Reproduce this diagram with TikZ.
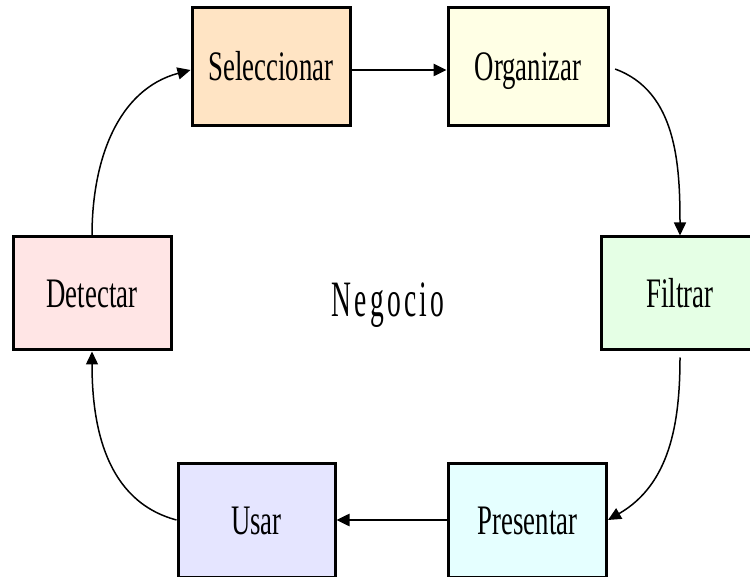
\documentclass[tikz,border=0pt]{standalone}
\usepackage{graphicx}
\usepackage{fontspec}
\setmainfont{Liberation Serif}
\usetikzlibrary{arrows.meta}
\definecolor{cSel}{HTML}{FFE4C4}
\definecolor{cOrg}{HTML}{FFFFE5}
\definecolor{cFil}{HTML}{E5FFE5}
\definecolor{cDet}{HTML}{FFE5E5}
\definecolor{cUsa}{HTML}{E5E5FF}
\definecolor{cPre}{HTML}{E5FFFF}
\newcommand\boxlabel[1]{\scalebox{0.67}[1.05]{#1}}
\begin{document}
\begin{tikzpicture}[x=1pt,y=1pt,
  box/.style={draw=black,line width=3pt,minimum width=158pt,minimum height=114pt,
    inner sep=0pt,text height=28pt,text depth=0pt,font=\fontsize{40}{40}\selectfont},
  curvelink/.style={line width=1.5pt,-{Triangle[length=13pt,width=12pt]}},
  straightlink/.style={line width=2.5pt,-{Triangle[length=13pt,width=12pt]}}]
\useasboundingbox (0,0) rectangle (750,-577);
\fill[white] (0,0) rectangle (750,-577);
\node[box,fill=cSel,minimum height=118pt] (sel) at (271,-67) {\boxlabel{Seleccionar}};
\node[box,fill=cOrg,minimum width=160pt,minimum height=118pt] (org) at (528,-67) {\boxlabel{Organizar}};
\node[box,fill=cFil,minimum height=113pt] (fil) at (680,-293.5) {\boxlabel{Filtrar}};
\node[box,fill=cDet,minimum height=113pt] (det) at (92,-293.5) {\boxlabel{Detectar}};
\node[box,fill=cUsa,minimum width=157pt] (usa) at (256.5,-520) {\boxlabel{Usar}};
\node[box,fill=cPre] (pre) at (527.5,-520) {\boxlabel{Presentar}};
\node[anchor=base,inner sep=0pt] (neg) at (388,-317)
  {\scalebox{0.54}[1]{\fontsize{51}{51}\selectfont N\kern6pt e\kern6pt g\kern6pt o\kern6pt c\kern6pt i\kern6pt o}};
\draw[straightlink] ([yshift=-3pt]sel.east) -- ([yshift=-3pt]org.west);
\draw[curvelink,shorten <=6pt] (org.east) to[out=-20,in=90] (fil.north);
\draw[curvelink,shorten <=6pt] (fil.south) to[out=-90,in=30] (pre.east);
\draw[straightlink] (pre.west) -- (usa.east);
\draw[curvelink] (usa.west) to[out=165,in=-90] (det.south);
\draw[curvelink] (det.north) to[out=90,in=195] ([yshift=-3pt]sel.west);
\end{tikzpicture}
\end{document}
